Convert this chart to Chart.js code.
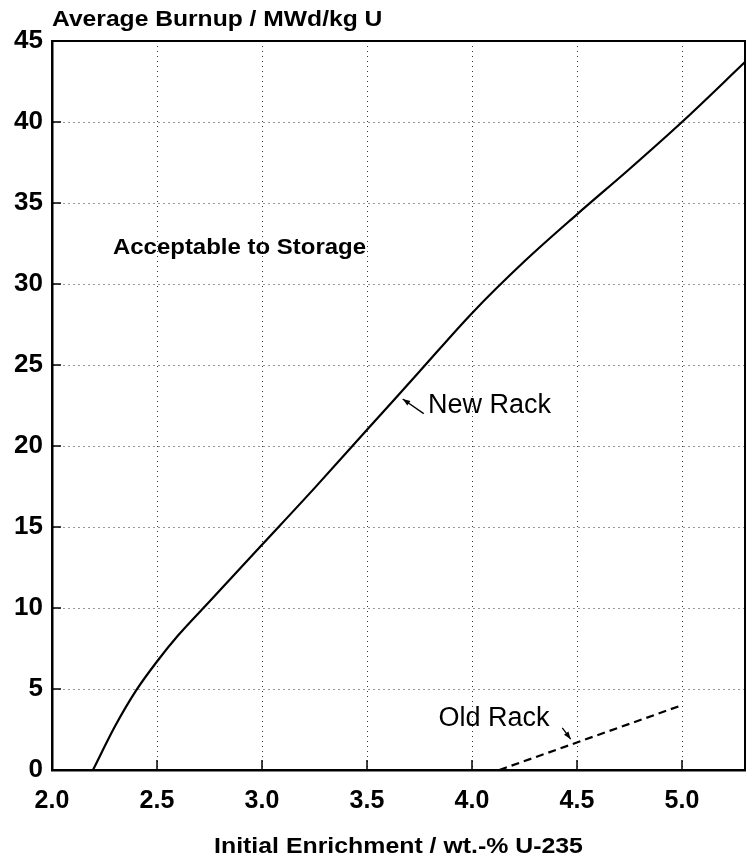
<!DOCTYPE html>
<html>
<head>
<meta charset="utf-8">
<script src="https://cdn.jsdelivr.net/npm/chart.js@4.4.1/dist/chart.umd.min.js"></script>
<style>
  html, body { margin: 0; padding: 0; background: #fff; }
  #wrap { width: 748px; height: 861px; }
</style>
</head>
<body>
<div id="wrap"><canvas id="myChart" width="748" height="861"></canvas></div>
<script>
// values
const enrichNew = [2.195, 2.3, 2.4, 2.5, 2.6, 2.75, 3.0, 3.25, 3.5, 3.75, 4.0, 4.25, 4.5, 4.75, 5.0, 5.3]
const burnupNew = [0, 2.7, 4.9, 6.7, 8.3, 10.4, 13.9, 17.4, 21.0, 24.6, 28.2, 31.4, 34.3, 37.1, 40.0, 43.7]
const enrichOld = [4.13, 5.0]
const burnupOld = [0, 4.0]
const xTicks = [2.0, 2.5, 3.0, 3.5, 4.0, 4.5, 5.0]
const yTicks = [0, 5, 10, 15, 20, 25, 30, 35, 40, 45]

const FONT = '"Liberation Sans", Arial, Helvetica, sans-serif'
const toPoints = (xs, ys) => xs.map((x, i) => ({ x: x, y: ys[i] }))

// text drawn a bit wider than the canvas font, like the original lettering
function wideText(ctx, text, x, y, font, sx, align) {
    ctx.save()
    ctx.font = font
    ctx.textBaseline = 'middle'
    ctx.textAlign = align || 'left'
    ctx.translate(x, y)
    ctx.scale(sx, 1)
    ctx.fillText(text, 0, 0)
    ctx.restore()
}

// frame, inner tick marks, titles and labels
const decor = {
    id: 'decor',
    afterDraw(chart) {
        const ctx = chart.ctx
        const a = chart.chartArea
        const xs = chart.scales.x
        const ys = chart.scales.y
        ctx.save()
        ctx.strokeStyle = '#000'
        ctx.fillStyle = '#000'
        ctx.lineWidth = 2
        ctx.beginPath()
        ctx.moveTo(a.left, a.top)
        ctx.lineTo(a.right, a.top)
        ctx.lineTo(a.right, a.bottom)
        ctx.stroke()

        ctx.lineWidth = 1.5
        ctx.beginPath()
        xTicks.forEach(v => {
            const px = xs.getPixelForValue(v)
            ctx.moveTo(px, a.bottom)
            ctx.lineTo(px, a.bottom - 10)
        })
        yTicks.forEach(v => {
            const py = ys.getPixelForValue(v)
            ctx.moveTo(a.left, py)
            ctx.lineTo(a.left + 9, py)
        })
        ctx.stroke()

        wideText(ctx, 'Average Burnup / MWd/kg U', a.left, 20, 'bold 22px ' + FONT, 1.12)
        wideText(ctx, 'Initial Enrichment / wt.-% U-235', (a.left + a.right) / 2, 847, 'bold 22px ' + FONT, 1.13, 'center')
        wideText(ctx, 'Acceptable to Storage', xs.getPixelForValue(2.29), ys.getPixelForValue(32.2), 'bold 22px ' + FONT, 1.09)

        ctx.font = '27px ' + FONT
        ctx.textBaseline = 'middle'
        ctx.textAlign = 'left'
        ctx.fillText('New Rack', xs.getPixelForValue(3.79), ys.getPixelForValue(22.5))
        ctx.fillText('Old Rack', xs.getPixelForValue(3.84), ys.getPixelForValue(3.2))

        // arrows
        const arrow = (x1, y1, x2, y2) => {
            const p1 = [xs.getPixelForValue(x1), ys.getPixelForValue(y1)]
            const p2 = [xs.getPixelForValue(x2), ys.getPixelForValue(y2)]
            const ang = Math.atan2(p2[1] - p1[1], p2[0] - p1[0])
            ctx.lineWidth = 1.3
            ctx.beginPath()
            ctx.moveTo(p1[0], p1[1])
            ctx.lineTo(p2[0], p2[1])
            ctx.stroke()
            ctx.beginPath()
            ctx.moveTo(p2[0], p2[1])
            ctx.lineTo(p2[0] - 8 * Math.cos(ang - 0.35), p2[1] - 8 * Math.sin(ang - 0.35))
            ctx.lineTo(p2[0] - 8 * Math.cos(ang + 0.35), p2[1] - 8 * Math.sin(ang + 0.35))
            ctx.closePath()
            ctx.fill()
        }
        arrow(3.77, 22.0, 3.67, 22.9)
        arrow(4.43, 2.6, 4.47, 1.9)
        ctx.restore()
    }
}

let myChart = document.getElementById('myChart').getContext('2d')
let burnupChart = new Chart(myChart, {
    type: 'scatter',
    data: {
        datasets: [{
            label: 'New Rack',
            data: toPoints(enrichNew, burnupNew),
            showLine: true,
            borderColor: '#000',
            borderWidth: 2.2,
            pointRadius: 0,
            cubicInterpolationMode: 'monotone'
        }, {
            label: 'Old Rack',
            data: toPoints(enrichOld, burnupOld),
            showLine: true,
            borderColor: '#000',
            borderWidth: 2.2,
            borderDash: [8, 5],
            pointRadius: 0
        }]
    },
    options: {
        responsive: false,
        animation: false,
        layout: { padding: { top: 41, right: 3, left: 0, bottom: 0 } },
        plugins: {
            legend: { display: false },
            tooltip: { enabled: false }
        },
        scales: {
            x: {
                type: 'linear',
                min: 2.0,
                max: 5.3,
                afterFit: s => { s.height = 91 },
                afterBuildTicks: s => { s.ticks = xTicks.map(v => ({ value: v })) },
                ticks: {
                    color: '#000',
                    padding: 16,
                    font: { family: FONT, size: 25, weight: 'bold' },
                    callback: v => v.toFixed(1)
                },
                grid: { color: '#333', lineWidth: 1, drawTicks: false },
                border: { display: true, color: '#000', width: 2.5, dash: [1, 4] }
            },
            y: {
                min: 0,
                max: 45,
                afterFit: s => { s.width = 52 },
                afterBuildTicks: s => { s.ticks = yTicks.map(v => ({ value: v })) },
                ticks: {
                    color: '#000',
                    padding: 9,
                    font: { family: FONT, size: 26, weight: 'bold' }
                },
                grid: { color: '#333', lineWidth: 1, drawTicks: false },
                border: { display: true, color: '#000', width: 2.5, dash: [1, 4] }
            }
        }
    },
    plugins: [decor]
})
</script>
</body>
</html>
